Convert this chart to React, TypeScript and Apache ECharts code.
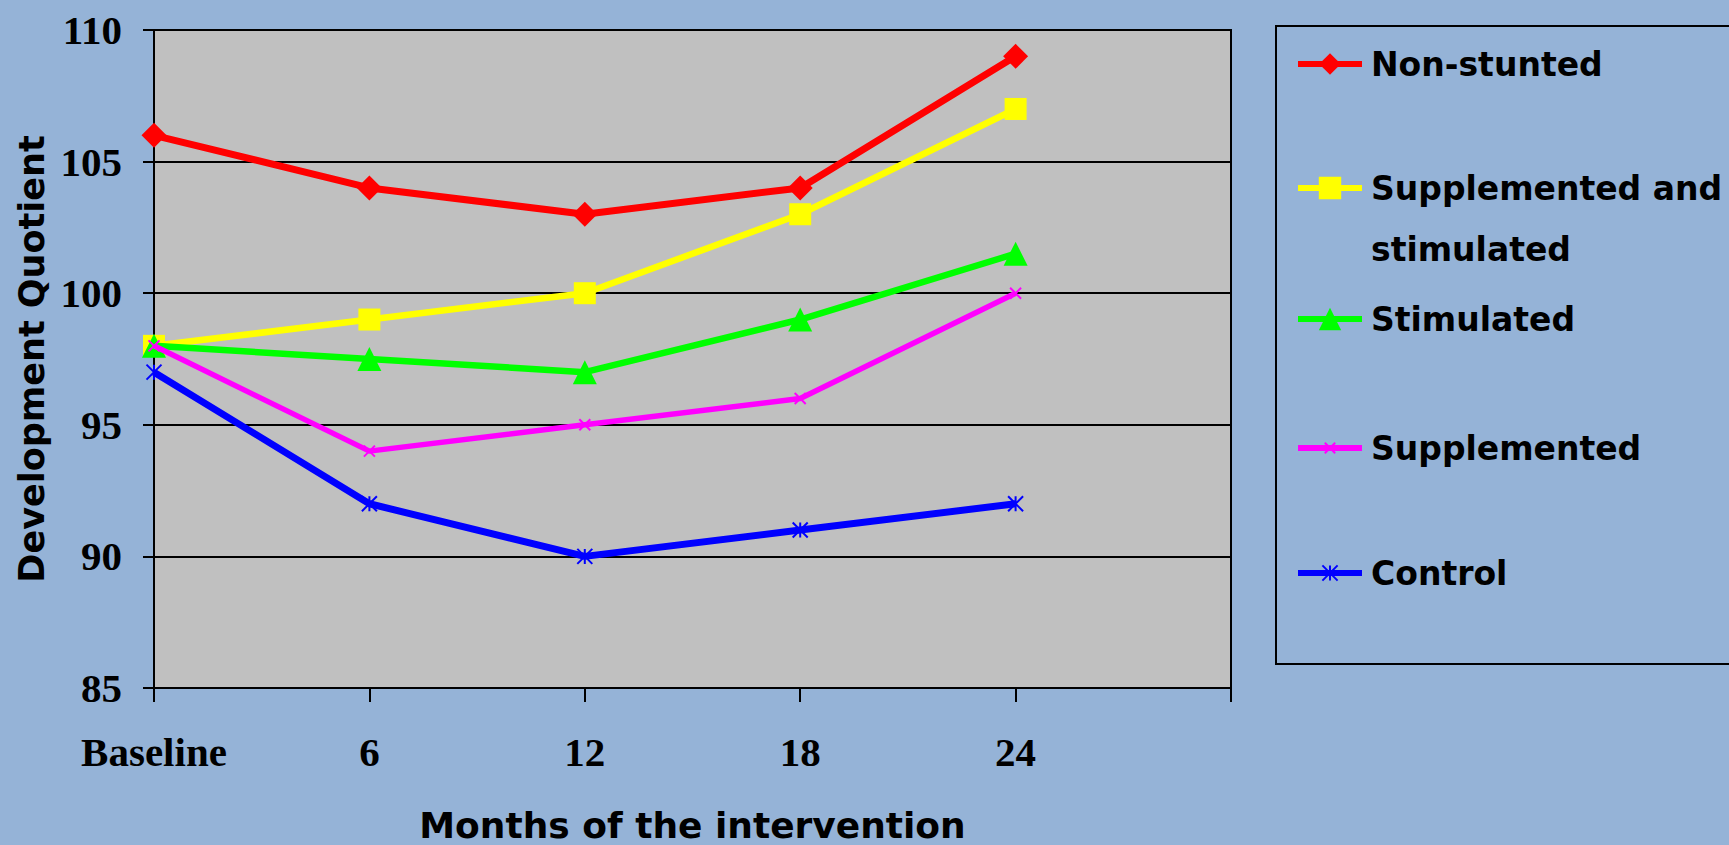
import React, { useEffect, useRef } from "react";
import * as echarts from "echarts";

// ---- data ----
const categories = ["Baseline", "6", "12", "18", "24", ""];
const seriesNames = [
  "Non-stunted",
  "Supplemented and stimulated",
  "Stimulated",
  "Supplemented",
  "Control",
];
const nonStunted = [106, 104, 103, 104, 109];
const suppStim = [98, 99, 100, 103, 107];
const stimulated = [98, 97.5, 97, 99, 101.5];
const supplemented = [98, 94, 95, 96, 100];
const control = [97, 92, 90, 91, 92];
const yTicks = { min: 85, max: 110, interval: 5 };

const seriesColors = ["#FF0000", "#FFFF00", "#00FF00", "#FF00FF", "#0000FF"];
const X_PATH = "path://M0,0L10,10M10,0L0,10";
const STAR_PATH = "path://M0,0L10,10M10,0L0,10M5,0L5,10";

const TITLE_FONT = "DejaVu Sans";
const TICK_FONT = "Liberation Serif";

export default function App() {
  const ref = useRef<HTMLDivElement>(null);

  useEffect(() => {
    if (!ref.current) return;
    const chart = echarts.init(ref.current, null, { renderer: "svg" });
    const values = [nonStunted, suppStim, stimulated, supplemented, control];
    const symbols = ["diamond", "rect", "triangle", X_PATH, STAR_PATH];
    const symbolSizes = [25, 22, 24, 11, 15];
    const lineWidths = [7, 6.5, 6.5, 5.5, 7];
    const symbolBorder = [0, 0, 0, 2, 2];
    const legendCenters = [64, 188, 319, 448, 573];
    const legendItemHeights = [27, 28, 28, 13, 19];

    const series = seriesNames.map((name, i) => ({
      name,
      type: "line",
      data: values[i],
      symbol: symbols[i],
      symbolSize: symbolSizes[i],
      showSymbol: true,
      lineStyle: { color: seriesColors[i], width: lineWidths[i] },
      itemStyle: {
        color: seriesColors[i],
        borderColor: seriesColors[i],
        borderWidth: symbolBorder[i],
        opacity: 1,
      },
      emphasis: { disabled: true },
      z: 2 + i,
    }));

    const legends = seriesNames.map((name, i) => {
      const twoLine = i === 1;
      const lh = twoLine ? 61 : 40;
      const top = twoLine ? legendCenters[i] - (lh * 3) / 2 : legendCenters[i] - lh / 2;
      return {
        data: [name],
        left: 1295,
        top,
        orient: "vertical",
        padding: 0,
        itemWidth: 64,
        itemHeight: legendItemHeights[i],
        selectedMode: false,
        formatter: (n: string) =>
          n === "Supplemented and stimulated" ? "\nSupplemented and\nstimulated" : n,
        lineStyle: { width: 6 },
        itemStyle: { borderWidth: symbolBorder[i] },
        textStyle: {
          fontFamily: TITLE_FONT,
          fontWeight: "bold",
          fontSize: 33,
          color: "#000",
          lineHeight: lh,
          padding: [0, 0, 0, 4],
        },
      };
    });

    chart.setOption({
      animation: false,
      backgroundColor: "#95B3D7",
      grid: {
        left: 154,
        top: 30,
        width: 1077,
        height: 658,
        show: true,
        backgroundColor: "#C0C0C0",
        borderColor: "#000",
        borderWidth: 2,
        containLabel: false,
        outerBoundsMode: "none",
      },
      xAxis: {
        type: "category",
        data: categories,
        boundaryGap: false,
        name: "Months of the intervention",
        nameLocation: "middle",
        nameGap: 119,
        nameTextStyle: {
          fontFamily: TITLE_FONT,
          fontWeight: "bold",
          fontSize: 36,
          color: "#000",
        },
        axisLine: { show: true, lineStyle: { color: "#000", width: 2 } },
        axisTick: {
          show: true,
          length: 14,
          inside: false,
          lineStyle: { color: "#000", width: 2 },
        },
        axisLabel: {
          margin: 43,
          fontFamily: TICK_FONT,
          fontWeight: "bold",
          fontSize: 41,
          color: "#000",
          interval: 0,
        },
        splitLine: { show: false },
      },
      yAxis: {
        type: "value",
        min: yTicks.min,
        max: yTicks.max,
        interval: yTicks.interval,
        name: "Development Quotient",
        nameLocation: "middle",
        nameGap: 104,
        nameTextStyle: {
          fontFamily: TITLE_FONT,
          fontWeight: "bold",
          fontSize: 35,
          color: "#000",
        },
        axisLine: { show: true, lineStyle: { color: "#000", width: 2 } },
        axisTick: {
          show: true,
          length: 11,
          inside: false,
          lineStyle: { color: "#000", width: 2 },
        },
        axisLabel: {
          margin: 32,
          fontFamily: TICK_FONT,
          fontWeight: "bold",
          fontSize: 41,
          color: "#000",
        },
        splitLine: { show: true, lineStyle: { color: "#000", width: 2 } },
      },
      legend: legends,
      graphic: [
        {
          type: "rect",
          shape: { x: 1276, y: 26, width: 520, height: 638 },
          style: { fill: "none", stroke: "#000", lineWidth: 2 },
          z: 0,
          silent: true,
        },
      ],
      series,
    });

    return () => {
      chart.dispose();
    };
  }, []);

  return (
    <div
      ref={ref}
      style={{
        position: "fixed",
        left: 0,
        top: 0,
        width: "1729px",
        height: "845px",
      }}
    />
  );
}
